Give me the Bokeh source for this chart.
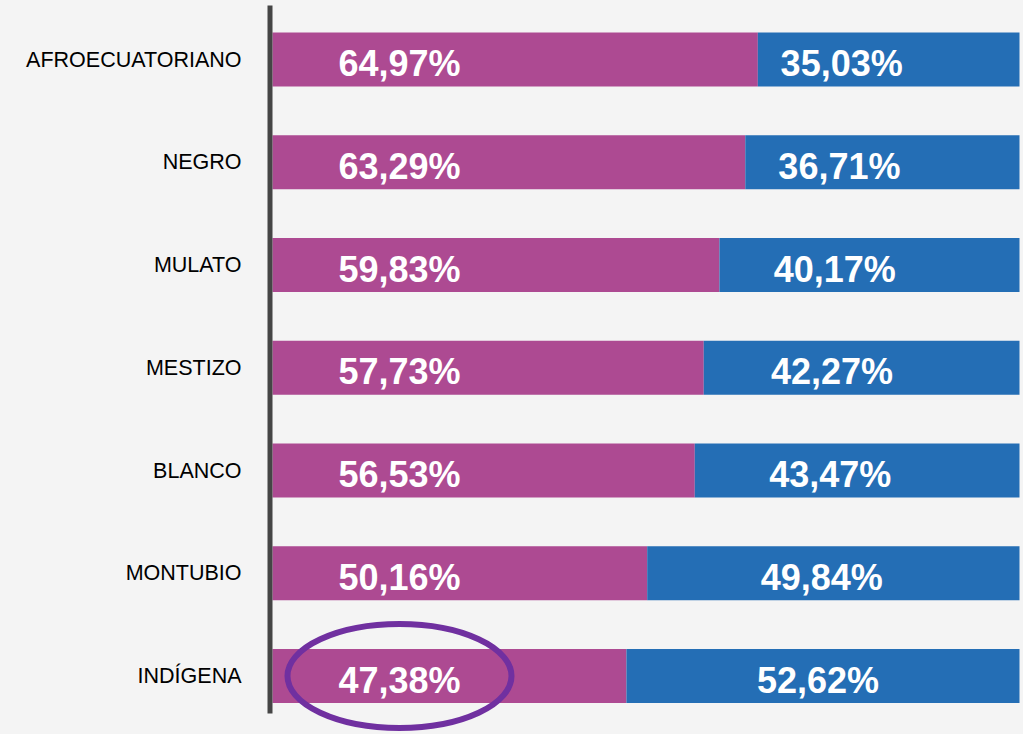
from bokeh.plotting import figure
from bokeh.models import Range1d, FixedTicker
from bokeh.embed import file_html
from bokeh.resources import INLINE
from bokeh.core.properties import value

categories = ["AFROECUATORIANO", "NEGRO", "MULATO", "MESTIZO", "BLANCO", "MONTUBIO", "INDÍGENA"]
mujeres = [64.97, 63.29, 59.83, 57.73, 56.53, 50.16, 47.38]
hombres = [35.03, 36.71, 40.17, 42.27, 43.47, 49.84, 52.62]
highlight = "INDÍGENA"

MAG = "#AD4A92"
BLUE = "#246EB5"
BG = "#F4F4F4"

n = len(categories)
rows = list(range(n))
fmt = lambda v: f"{v:.2f}".replace(".", ",") + "%"

W, H = 1023, 734
px_per_unit = 7.47
frame_left = 265
x_start = -7 / px_per_unit
x_end = x_start + (W - frame_left) / px_per_unit
row_px = 102.75
y_top = -59 / row_px
y_bot = y_top + H / row_px

p = figure(width=W, height=H, output_backend="svg", toolbar_location=None,
           x_range=Range1d(x_start, x_end), y_range=Range1d(y_bot, y_top),
           x_axis_location=None, min_border_left=frame_left, min_border_right=0,
           min_border_top=0, min_border_bottom=0)
p.background_fill_color = BG
p.border_fill_color = BG
p.outline_line_color = None
p.grid.visible = False

ax = p.yaxis[0]
ax.ticker = FixedTicker(ticks=rows)
ax.major_label_overrides = {i: c for i, c in enumerate(categories)}
ax.axis_line_color = None
ax.major_tick_line_color = None
ax.minor_tick_line_color = None
ax.major_label_standoff = 18
ax.major_label_text_font = "Liberation Sans"
ax.major_label_text_font_size = "21.5px"
ax.major_label_text_color = "#000000"

bar_h = 54 / row_px
totals = [m + h for m, h in zip(mujeres, hombres)]
p.hbar(y=rows, left=0, right=mujeres, height=bar_h, fill_color=MAG, line_color=None)
p.hbar(y=rows, left=mujeres, right=totals, height=bar_h, fill_color=BLUE, line_color=None)

# vertical axis line
p.segment(x0=[-2.5 / px_per_unit], x1=[-2.5 / px_per_unit], y0=[y_top + 5 / row_px],
          y1=[n - 1 + 0.365], line_color="#454545", line_width=5)

mag_x = [17.0] * n
blue_x = [64.5 + 0.18 * m for m in mujeres]
common = dict(text_font=value("Liberation Sans"), text_font_style="bold", text_font_size="36px",
              text_color="white", text_align="center", text_baseline="middle", y_offset=4)
p.text(x=mag_x, y=rows, text=[fmt(v) for v in mujeres], **common)
p.text(x=blue_x, y=rows, text=[fmt(v) for v in hombres], **common)

hi = categories.index(highlight)
p.ellipse(x=[mag_x[hi]], y=[hi], width=224, height=104, width_units="screen", height_units="screen",
          fill_color=None, line_color="#7030A0", line_width=6)

html = file_html(p, INLINE)
html = html.replace("</head>", f"<style>html, body {{ background: {BG}; }}</style></head>", 1)
open("out.html", "w").write(html)
